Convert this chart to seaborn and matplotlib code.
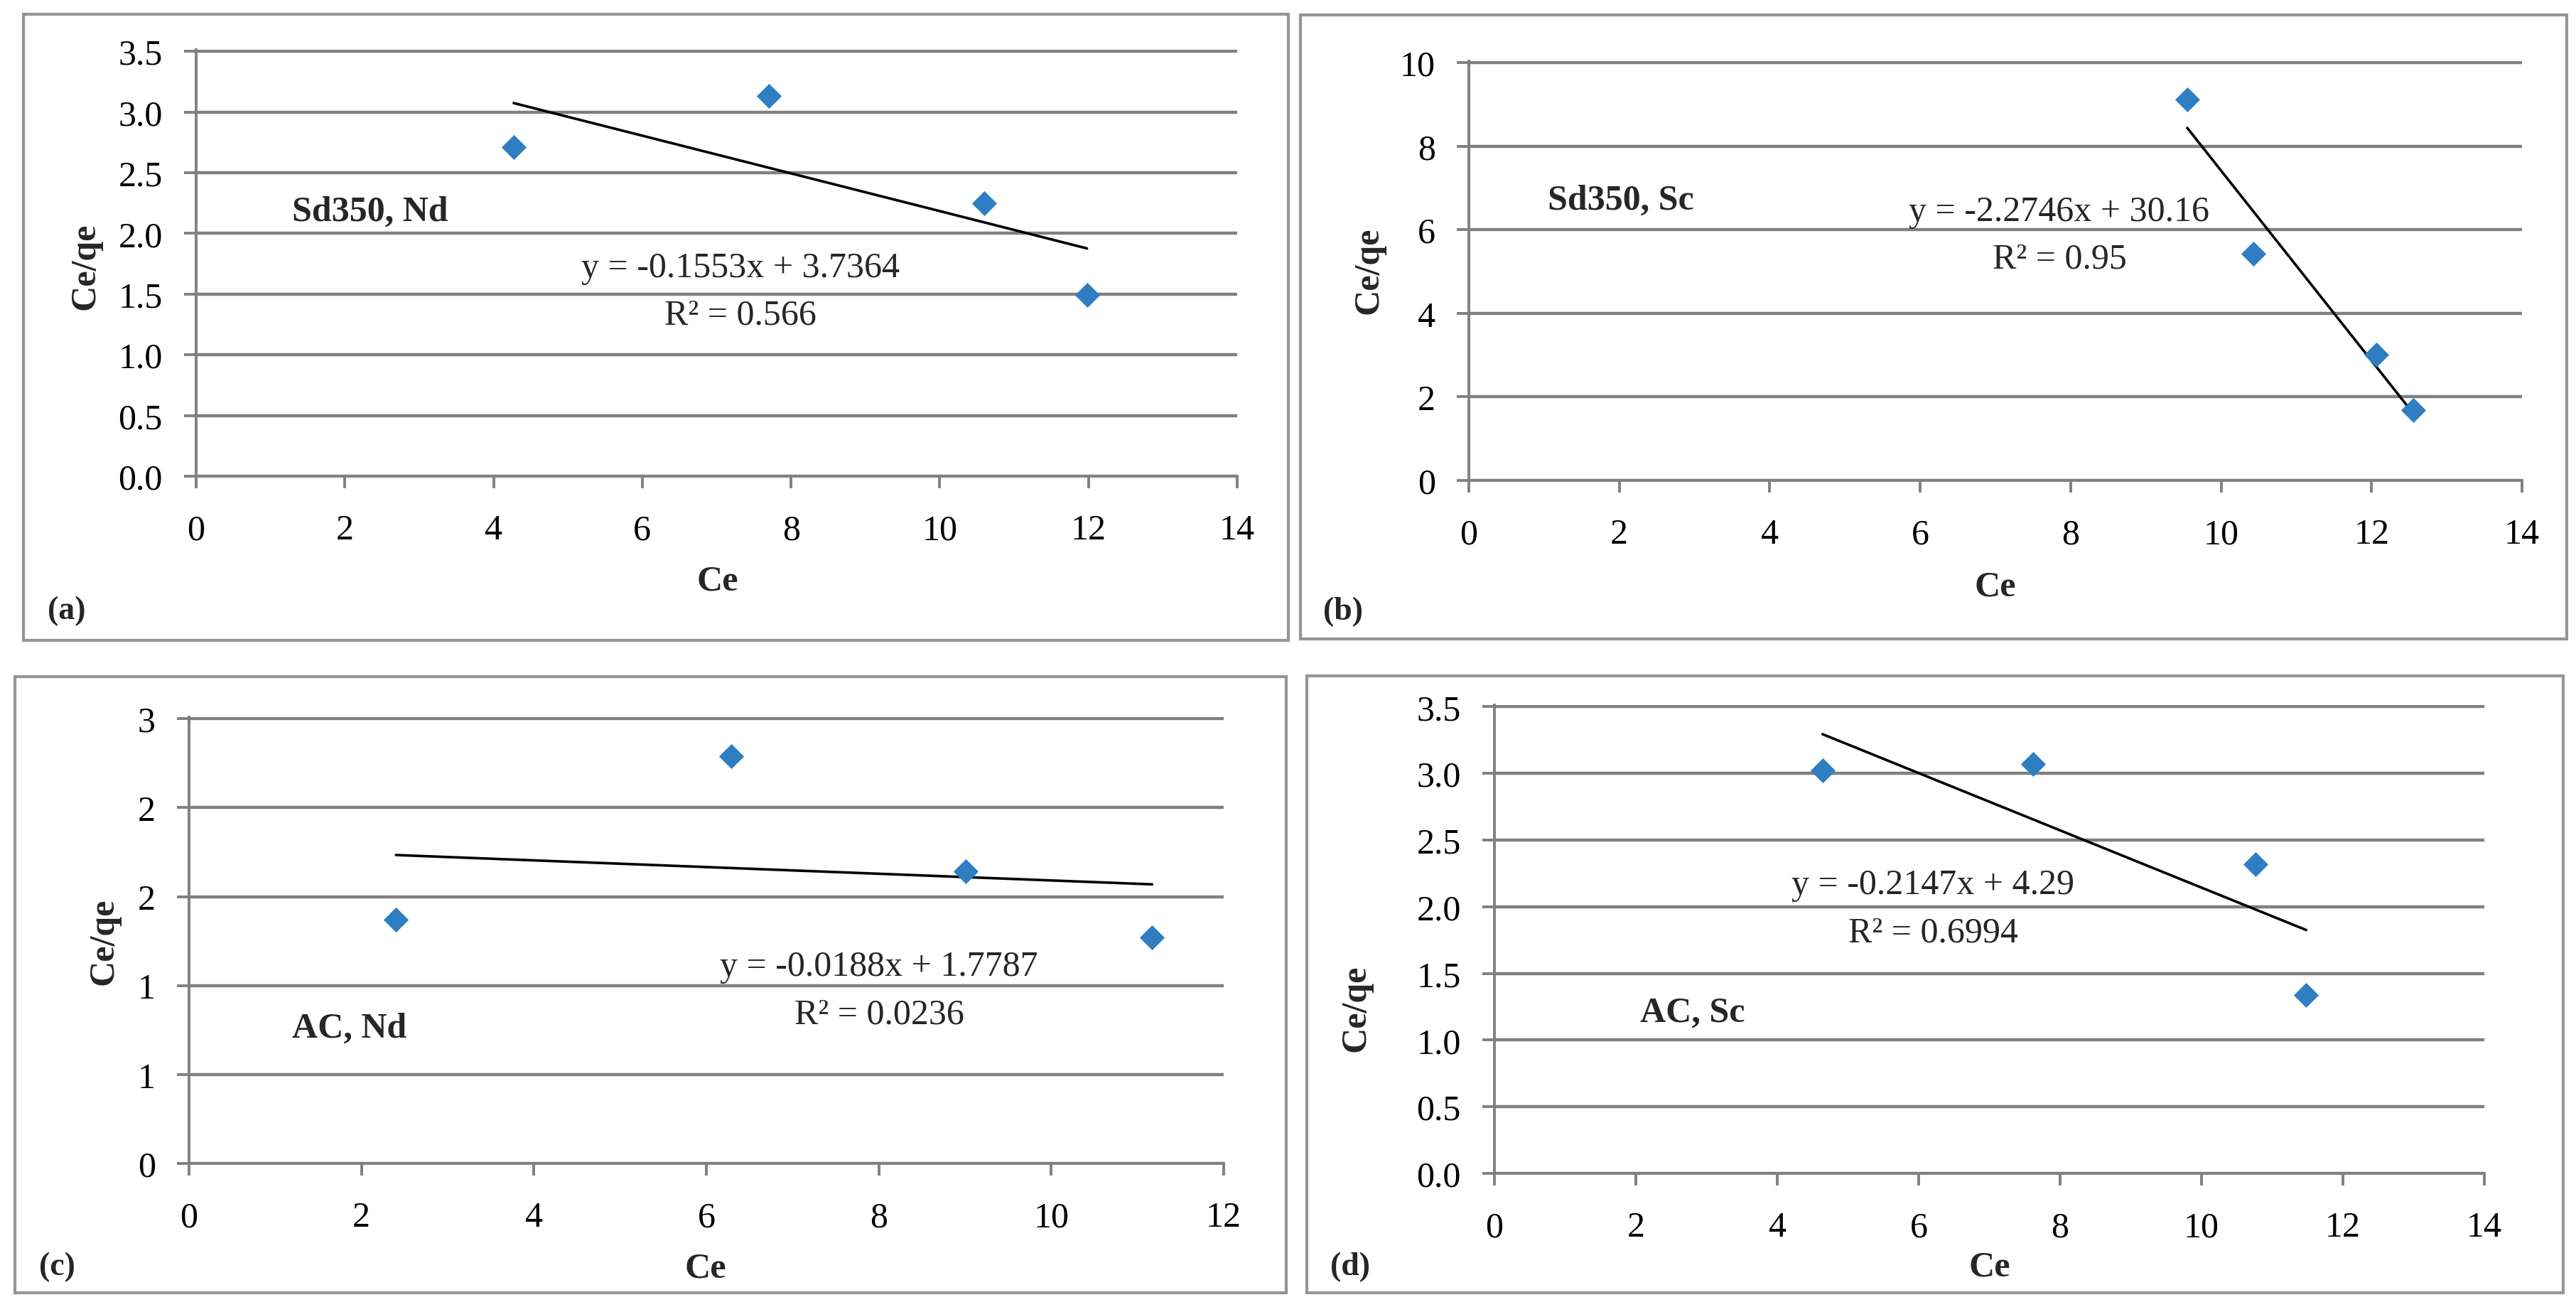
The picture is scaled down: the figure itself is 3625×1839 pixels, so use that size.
import matplotlib
matplotlib.use("Agg")
import matplotlib.pyplot as plt
import seaborn as sns
import pandas as pd
import numpy as np
from matplotlib.patches import Rectangle

sns.set_theme(style="white")
plt.rcParams['font.family'] = ['Liberation Serif', 'DejaVu Serif']

# ---------------- data ----------------
panel_ids = ["a", "b", "c", "d"]
panel_tags = ["(a)", "(b)", "(c)", "(d)"]
panel_names = ["Sd350, Nd", "Sd350, Sc", "AC, Nd", "AC, Sc"]

ce_a = [4.27, 7.70, 10.60, 11.98]
q_a = [2.71, 3.13, 2.25, 1.49]
ce_b = [9.55, 10.43, 12.06, 12.55]
q_b = [9.11, 5.43, 3.01, 1.68]
ce_c = [2.40, 6.29, 9.01, 11.17]
q_c = [1.37, 2.29, 1.64, 1.27]
ce_d = [4.64, 7.62, 10.76, 11.48]
q_d = [3.02, 3.07, 2.32, 1.34]

slopes = [-0.1553, -2.2746, -0.0188, -0.2147]
intercepts = [3.7364, 30.16, 1.7787, 4.29]
eq_texts = ["y = -0.1553x + 3.7364", "y = -2.2746x + 30.16",
            "y = -0.0188x + 1.7787", "y = -0.2147x + 4.29"]
r2_texts = ["R² = 0.566", "R² = 0.95", "R² = 0.0236", "R² = 0.6994"]

x_max = [14, 14, 12, 14]
x_ticks = [list(range(0, 15, 2)), list(range(0, 15, 2)),
           list(range(0, 13, 2)), list(range(0, 15, 2))]
y_ticks = [[0.0, 0.5, 1.0, 1.5, 2.0, 2.5, 3.0, 3.5],
           [0, 2, 4, 6, 8, 10],
           [0.0, 0.5, 1.0, 1.5, 2.0, 2.5],
           [0.0, 0.5, 1.0, 1.5, 2.0, 2.5, 3.0, 3.5]]
y_ticklabels = [["0.0", "0.5", "1.0", "1.5", "2.0", "2.5", "3.0", "3.5"],
                ["0", "2", "4", "6", "8", "10"],
                ["0", "1", "1", "2", "2", "3"],
                ["0.0", "0.5", "1.0", "1.5", "2.0", "2.5", "3.0", "3.5"]]

ces = [ce_a, ce_b, ce_c, ce_d]
qs = [q_a, q_b, q_c, q_d]

# ---------------- layout (pixels) ----------------
W, H = 3625, 1840
DPI = 100
fig = plt.figure(figsize=(W / DPI, H / DPI), dpi=DPI)
fig.patch.set_facecolor("white")

# axes: left, right, y of bottom, y of top (pixel, from top)
ax_px = [(276, 1741, 671, 71),
         (2067, 3549, 677, 87),
         (266, 1722, 1638, 1010),
         (2103, 3496, 1652, 993)]
# frame boxes: left, top, right, bottom
box_px = [(33, 21, 1813, 902),
          (1830, 22, 3612, 900),
          (21, 953, 1810, 1820),
          (1839, 952, 3607, 1820)]
name_px = [(411, 299), (2178, 283), (411, 1448), (2308, 1426)]
eq_px = [(1042, 378), (2898, 299), (1237, 1361), (2720, 1246)]
r2_px = [(1042, 444), (2898, 365), (1237, 1428), (2720, 1313)]
ylab_px = [(120, 375), (1926, 381), (147, 1325), (1908, 1419)]
xlab_px = [(1010, 819), (2808, 827), (993, 1786), (2800, 1784)]
tag_px = [(67, 860), (1862, 861), (55, 1783), (1872, 1783)]

GRID = "#808080"
BOX = "#959595"
BLUE = "#2E7EC1"
FS = 36

def fx(px):
    return px / W

def fy(py):
    return 1 - py / H

for i in range(4):
    l, r, yb, yt = ax_px[i]
    ax = fig.add_axes([fx(l), fy(yb), (r - l) / W, (yb - yt) / H])
    ax.set_facecolor("none")

    df = pd.DataFrame({"Ce": ces[i], "Ce/qe": qs[i]})
    sns.scatterplot(data=df, x="Ce", y="Ce/qe", ax=ax, marker="D", s=320,
                    color=BLUE, edgecolor=BLUE, linewidth=0, zorder=4,
                    clip_on=False)
    xs = np.array([min(ces[i]), max(ces[i])])
    line_df = pd.DataFrame({"Ce": xs, "fit": slopes[i] * xs + intercepts[i]})
    sns.lineplot(data=line_df, x="Ce", y="fit", ax=ax, color="black",
                 linewidth=2.6, zorder=3)

    lo, hi = y_ticks[i][0], y_ticks[i][-1]
    ax.set_xlim(0, x_max[i])
    ax.set_ylim(lo, hi + (hi - lo) * 0.0035)
    ax.set_xticks(x_ticks[i])
    ax.set_xticklabels([str(t) for t in x_ticks[i]])
    ax.set_yticks(y_ticks[i])
    ax.set_yticklabels(y_ticklabels[i])
    ax.grid(axis="y", color=GRID, linewidth=3.2, zorder=1)
    ax.grid(axis="x", visible=False)
    ax.set_axisbelow(True)
    for s in ["top", "right"]:
        ax.spines[s].set_visible(False)
    for s in ["left", "bottom"]:
        ax.spines[s].set_color(GRID)
        ax.spines[s].set_linewidth(2.8)
    ax.tick_params(axis="both", direction="out", color=GRID, width=2.8,
                   length=12, labelsize=FS, labelcolor="black")
    ax.tick_params(axis="y", pad=22, left=True)
    ax.tick_params(axis="x", pad=26, bottom=True)
    ax.set_xlabel("")
    ax.set_ylabel("")

    # box frame
    bl, bt, br, bb = box_px[i]
    fig.add_artist(Rectangle((fx(bl), fy(bb)), (br - bl) / W, (bb - bt) / H,
                             transform=fig.transFigure, fill=False,
                             edgecolor=BOX, linewidth=3.0))

    fig.text(fx(name_px[i][0]), fy(name_px[i][1]), panel_names[i],
             fontsize=FS, fontweight="bold", ha="left", va="center")
    fig.text(fx(eq_px[i][0]), fy(eq_px[i][1]), eq_texts[i],
             fontsize=FS, ha="center", va="center")
    fig.text(fx(r2_px[i][0]), fy(r2_px[i][1]), r2_texts[i],
             fontsize=FS, ha="center", va="center")
    fig.text(fx(ylab_px[i][0]), fy(ylab_px[i][1]), "Ce/qe", rotation=90,
             fontsize=FS, fontweight="bold", ha="center", va="center")
    fig.text(fx(xlab_px[i][0]), fy(xlab_px[i][1]), "Ce",
             fontsize=FS, fontweight="bold", ha="center", va="center")
    fig.text(fx(tag_px[i][0]), fy(tag_px[i][1]), panel_tags[i],
             fontsize=FS - 3, fontweight="bold", ha="left", va="center")

fig.savefig("out.png", dpi=DPI, facecolor="white")
